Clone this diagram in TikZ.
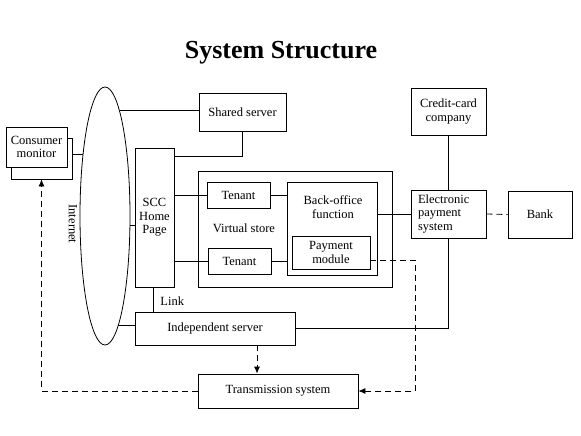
\documentclass[tikz,border=0pt]{standalone}
\usepackage{fontspec}
\setmainfont{Liberation Serif}
\usetikzlibrary{shapes.geometric, arrows.meta}

\begin{document}
\begin{tikzpicture}[x=1pt, y=-1pt, line width=0.8pt,
		every node/.style={inner sep=0pt, align=center, font=\fontsize{12.5}{13.5}\selectfont},
		box/.style={draw, fill=white},
		flow/.style={dash pattern=on 6pt off 4pt, -{Latex[length=7pt, width=6pt]}}]
	\useasboundingbox (0,0) rectangle (581,436);
	\node[font=\fontsize{26}{30}\selectfont\bfseries] (title) at (281,53) {System Structure};
	% consumer side
	\node[box, minimum width=61pt, minimum height=41pt] (monitorback) at (41.5,158.5) {};
	\node[box, minimum width=61pt, minimum height=40pt] (monitor) at (36.5,147) {Consumer\\monitor};
	\node[draw, ellipse, minimum width=50pt, minimum height=258pt] (net) at (105,216) {};
	\node[rotate=-90] (inet) at (73,224) {Internet};
	% servers
	\node[box, minimum width=87pt, minimum height=38pt] (shared) at (242.5,112) {Shared server};
	\node[box, minimum width=39pt, minimum height=139pt] (scc) at (154.5,217.5) {SCC\\Home\\Page};
	\node[box, minimum width=160pt, minimum height=33pt] (indep) at (215,328.5) {Independent server};
	\node[box, minimum width=160pt, minimum height=34pt] (trans) at (278,391) {Transmission system};
	% virtual store
	\node[box, minimum width=194pt, minimum height=116pt] (store) at (295,229) {};
	\node (storelabel) at (244,228) {Virtual store};
	\node[box, minimum width=63pt, minimum height=26pt] (tenantA) at (238.5,195) {Tenant};
	\node[box, minimum width=63pt, minimum height=26pt] (tenantB) at (239.5,261) {Tenant};
	\node[box, minimum width=90pt, minimum height=93pt] (backoffice) at (332,228.5) {};
	\node (backlabel) at (333,207) {Back-office\\function};
	\node[box, minimum width=78pt, minimum height=33pt] (payment) at (331,252.5) {Payment\\module};
	% payment side
	\node[box, minimum width=75pt, minimum height=47pt] (credit) at (448.5,111.5) {Credit-card\\company};
	\node[box, align=left, text width=61pt, inner xsep=7pt, minimum height=48pt] (eps) at (448.5,214) {Electronic\\payment\\system};
	\node[box, minimum width=64pt, minimum height=47pt] (bank) at (540,214.5) {Bank};
	% connectors
	\draw (net.110.6) -- (net.110.6 -| monitorback.east);
	\draw (net.82.1) -- (net.82.1 -| shared.west);
	\draw (net.-21.9) -- (net.-21.9 -| scc.west);
	\draw (net.-83.7) -- (net.-83.7 -| indep.west);
	\draw ([yshift=-9pt]scc.north east) -| (shared.south);
	\draw (tenantA.west -| scc.east) -- (tenantA.west);
	\draw (tenantB.west -| scc.east) -- (tenantB.west);
	\draw (tenantA.east) -- (tenantA.east -| backoffice.west);
	\draw (tenantB.east) -- (tenantB.east -| backoffice.west);
	\draw (eps.west -| backoffice.east) -- (eps.west);
	\draw (credit.south) -- (eps.north);
	\draw[dash pattern=on 6pt off 4pt] (eps.east) -- (bank.west);
	\draw (eps.south) |- (indep.east);
	\draw ([xshift=-1.5pt]scc.south) -- ([xshift=-1.5pt]scc.south |- indep.north);
	\node[anchor=west] (link) at (160,301) {Link};
	\draw[flow] ([xshift=42pt]indep.south) -- ([xshift=42pt]indep.south |- trans.north);
	\draw[flow] ([yshift=-7.5pt]payment.east) -- ++(45,0) |- (trans.east);
	\draw[flow] (trans.west) -| (monitorback.south);
\end{tikzpicture}
\end{document}
